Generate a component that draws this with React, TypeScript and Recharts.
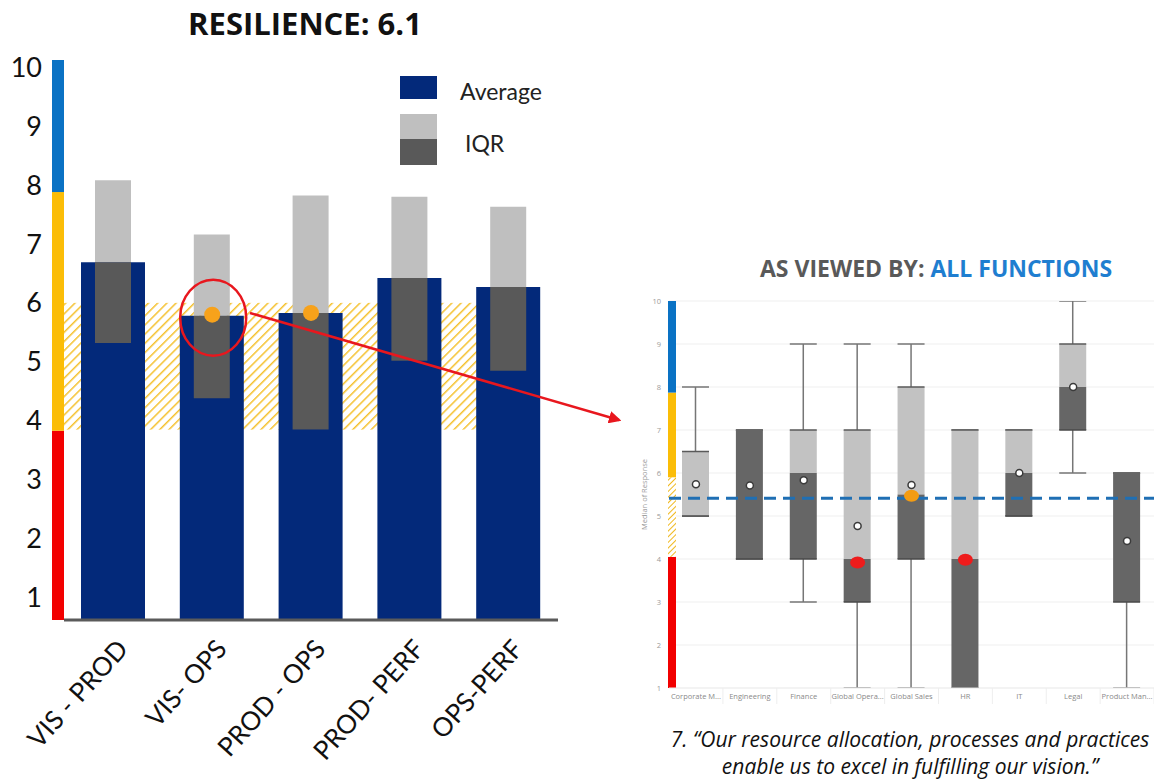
import React from "react";
import { ComposedChart, Bar, Line, XAxis, YAxis, ReferenceArea, ReferenceLine, CartesianGrid, Legend } from "recharts";

// left panel: resilience by pair
const pairs = ["VIS - PROD", "VIS- OPS", "PROD - OPS", "PROD- PERF", "OPS-PERF"];
const averages = [6.69, 5.78, 5.83, 6.42, 6.27];
const lowerQuartiles = [5.32, 4.38, 3.85, 5.02, 4.85];
const upperQuartiles = [8.08, 7.16, 7.82, 7.8, 7.63];
const flaggedPoints = [null, 5.8, 5.83, null, null];
const circledPair = "VIS- OPS";
const resilienceScore = 6.1;
const leftTicks = [1, 2, 3, 4, 5, 6, 7, 8, 9, 10];
const leftZones = [
  { from: 0.62, to: 3.83, color: "#f20000" },
  { from: 3.83, to: 7.88, color: "#fbbd07" },
  { from: 7.88, to: 10.12, color: "#0a72c4" },
];
const watchBand = [3.85, 6.0];

// right panel: as viewed by all functions
const functions = ["Corporate M...", "Engineering", "Finance", "Global Opera...", "Global Sales", "HR", "IT", "Legal", "Product Man..."];
const mins = [5, 4, 3, 1, 1, 1, 5, 6, 1];
const q1s = [5, 4, 4, 3, 4, 1, 5, 7, 3];
const medians = [5, 7, 6, 4, 5.5, 4, 6, 8, 6];
const q3s = [6.5, 7, 7, 7, 8, 7, 7, 9, 6];
const maxs = [8, 7, 9, 9, 9, 7, 7, 10, 6];
const means = [5.74, 5.71, 5.83, 4.77, 5.72, null, 6.0, 8.0, 4.42];
const markers = [null, null, null, 3.92, 5.47, 3.98, null, null, null];
const markerColors = [null, null, null, "#ee1c1c", "#f39c12", "#ee1c1c", null, null, null];
const overallMedian = 5.41;
const rightTicks = [1, 2, 3, 4, 5, 6, 7, 8, 9, 10];
const rightZones = [
  { from: 1, to: 4.05, color: "#f20000" },
  { from: 4.05, to: 5.9, color: "url(#hatchSmall)" },
  { from: 5.9, to: 7.87, color: "#fbbd07" },
  { from: 7.87, to: 10, color: "#0a72c4" },
];

const NAVY = "#03297a";
const LIGHT = "#bfbfbf";
const DARK = "#595959";

const leftData = pairs.map((pair, i) => ({
  pair,
  average: averages[i],
  iqrUpper: [averages[i], upperQuartiles[i]],
  iqrLower: [lowerQuartiles[i], averages[i]],
  flagged: flaggedPoints[i],
  circled: pair === circledPair,
}));

const rightData = functions.map((fn, i) => ({
  fn,
  whisker: [mins[i], maxs[i]],
  upperBox: [medians[i], q3s[i]],
  lowerBox: [q1s[i], medians[i]],
  mean: means[i],
  marker: markers[i],
  markerColor: markerColors[i],
}));

const PairTick = ({ x, y, payload }: any) => (
  <g transform={`translate(${x + 16},${y + 30})`}>
    <text textAnchor="end" transform="rotate(-48)" fontSize={26} fontFamily="Lato" fill="#111">
      {payload.value}
    </text>
  </g>
);

const FnTick = ({ x, y, payload }: any) => (
  <g>
    <text x={x} y={y + 11} textAnchor="middle" fontSize={7.5} fill="#8a8a8a" stroke="none" fontFamily="Open Sans">
      {payload.value}
    </text>
    <line x1={x + 27} x2={x + 27} y1={y} y2={y + 16} stroke="#eeeeee" />
  </g>
);

const FlagDot = ({ cx, cy, index, payload }: any) => {
  if (cy == null || isNaN(cy)) return <g key={index} />;
  return (
    <g key={index}>
      <circle cx={cx} cy={cy} r={8} fill="#f7a21b" />
      {payload.circled && (
        <ellipse cx={cx + 1} cy={cy + 3} rx={33} ry={38} fill="none" stroke="#e8171e" strokeWidth={2.5} />
      )}
    </g>
  );
};

const MarkerDot = ({ cx, cy, index, payload }: any) => {
  if (cy == null || isNaN(cy)) return <g key={index} />;
  return <ellipse key={index} cx={cx} cy={cy} rx={7.5} ry={6} fill={payload.markerColor} />;
};

const Whisker = ({ x, y, width, height }: any) => {
  const cx = x + width / 2;
  const top = Math.min(y, y + height);
  const bottom = Math.max(y, y + height);
  return (
    <g>
      <line x1={cx} x2={cx} y1={top} y2={bottom} stroke="#767676" strokeWidth={1.5} />
      <line x1={x} x2={x + width} y1={top} y2={top} stroke="#767676" strokeWidth={1.5} />
      <line x1={x} x2={x + width} y1={bottom} y2={bottom} stroke="#767676" strokeWidth={1.5} />
    </g>
  );
};

const UpperBox = ({ x, y, width, height }: any) => {
  const top = Math.min(y, y + height);
  return (
    <g>
      <rect x={x} y={top} width={width} height={Math.abs(height)} fill="#c2c2c2" />
      <line x1={x} x2={x + width} y1={top} y2={top} stroke="#5a5a5a" strokeWidth={1.5} />
    </g>
  );
};

const LowerBox = ({ x, y, width, height }: any) => {
  const top = Math.min(y, y + height);
  const bottom = Math.max(y, y + height);
  return (
    <g>
      <rect x={x} y={top} width={width} height={Math.abs(height)} fill="#666666" />
      <line x1={x} x2={x + width} y1={bottom} y2={bottom} stroke="#4a4a4a" strokeWidth={1.5} />
    </g>
  );
};

const LeftLegend = () => (
  <div style={{ position: "relative", width: 170, height: 92, fontFamily: "Lato", fontSize: 23, color: "#222" }}>
    <div style={{ position: "absolute", left: 0, top: 0, width: 37, height: 23, background: NAVY }} />
    <div style={{ position: "absolute", left: 60, top: 2, lineHeight: "26px" }}>Average</div>
    <div style={{ position: "absolute", left: 0, top: 38, width: 37, height: 25, background: LIGHT }} />
    <div style={{ position: "absolute", left: 0, top: 63, width: 37, height: 26, background: DARK }} />
    <div style={{ position: "absolute", left: 65, top: 54, lineHeight: "26px" }}>IQR</div>
  </div>
);

export default function App() {
  return (
    <div style={{ position: "absolute", left: 0, top: 0, width: 1154, height: 782, background: "#fff", overflow: "hidden" }}>
      <div style={{ position: "absolute", left: 0, top: 0 }}>
        <ComposedChart width={600} height={782} data={leftData} margin={{ top: 60, right: 42, bottom: 12, left: 0 }}>
          <defs>
            <pattern id="hatch" width="6.5" height="6.5" patternUnits="userSpaceOnUse" patternTransform="rotate(45)">
              <rect width="6.5" height="6.5" fill="#fff" />
              <line x1="0" y1="0" x2="0" y2="6.5" stroke="#f5c12e" strokeWidth="3" />
            </pattern>
          </defs>
          <XAxis dataKey="pair" interval={0} height={150} tickLine={false} tickSize={0} tickMargin={0}
            axisLine={{ stroke: "#5a5a5a", strokeWidth: 3 }} tick={<PairTick />} />
          <XAxis xAxisId="lt" dataKey="pair" hide />
          <XAxis xAxisId="dk" dataKey="pair" hide />
          <YAxis domain={[0.62, 10.12]} ticks={leftTicks} allowDataOverflow width={64} axisLine={false}
            tickLine={false} tickSize={6} tickMargin={16} tick={{ fill: "#111", fontSize: 27, fontFamily: "Lato" }} />
          <ReferenceArea y1={watchBand[0]} y2={watchBand[1]} x1={pairs[0]} x2={pairs[3]} ifOverflow="visible"
            shape={(p: any) => <rect x={p.x} y={p.y} width={p.width + 20} height={p.height} fill="url(#hatch)" />} />
          {leftZones.map((z) => (
            <ReferenceArea key={z.color} y1={z.from} y2={z.to} ifOverflow="visible"
              shape={(p: any) => <rect x={p.x - 12} y={p.y} width={12} height={p.height} fill={z.color} />} />
          ))}
          <Bar dataKey="average" fill={NAVY} barSize={64} isAnimationActive={false} legendType="none" />
          <Bar xAxisId="lt" dataKey="iqrUpper" fill={LIGHT} barSize={36} isAnimationActive={false} legendType="none" />
          <Bar xAxisId="dk" dataKey="iqrLower" fill={DARK} barSize={36} isAnimationActive={false} legendType="none" />
          <Line dataKey="flagged" stroke="none" dot={FlagDot} activeDot={false} isAnimationActive={false} legendType="none" />
          <Legend layout="vertical" align="center" verticalAlign="middle" content={LeftLegend}
            wrapperStyle={{ left: 400, top: 76, width: 170, height: 92 }} />
        </ComposedChart>
      </div>

      <div
        style={{
          position: "absolute", left: 0, top: 0, width: 610, textAlign: "center",
          fontFamily: "Open Sans", fontWeight: 700, fontSize: 31, lineHeight: "46px", color: "#111",
        }}
      >
        RESILIENCE: {resilienceScore}
      </div>

      <div
        style={{
          position: "absolute", left: 760, top: 253, whiteSpace: "nowrap",
          fontFamily: "Open Sans", fontWeight: 700, fontSize: 23, lineHeight: "30px", color: "#595959",
        }}
      >
        AS VIEWED BY: <span style={{ color: "#1f7ed0" }}>ALL FUNCTIONS</span>
      </div>

      <div style={{ position: "absolute", left: 630, top: 280 }}>
        <ComposedChart width={524} height={430} data={rightData} margin={{ top: 21, right: 0, bottom: 6, left: 0 }}>
          <defs>
            <pattern id="hatchSmall" width="4" height="4" patternUnits="userSpaceOnUse" patternTransform="rotate(45)">
              <rect width="4" height="4" fill="#fff" />
              <line x1="0" y1="0" x2="0" y2="4" stroke="#f0b81c" strokeWidth="2" />
            </pattern>
          </defs>
          <CartesianGrid vertical={false} stroke="#efefef" />
          <XAxis dataKey="fn" interval={0} height={16} tickLine={false} tickSize={0} tickMargin={0}
            axisLine={{ stroke: "#efefef" }} tick={<FnTick />} />
          <XAxis xAxisId="lt" dataKey="fn" hide />
          <XAxis xAxisId="dk" dataKey="fn" hide />
          <YAxis domain={[1, 10]} ticks={rightTicks} allowDataOverflow width={39} axisLine={false} tickLine={false}
            tickSize={0} tickMargin={8} tick={{ fill: "#9a9a9a", fontSize: 7.5, fontFamily: "Open Sans" }}
            label={{ value: "Median of Response", angle: -90, position: "center", dx: -5, fill: "#9a9a9a", fontSize: 7.5, fontFamily: "Open Sans" }} />
          {rightZones.map((z) => (
            <ReferenceArea key={z.from} y1={z.from} y2={z.to} ifOverflow="visible"
              shape={(p: any) => <rect x={p.x - 1} y={p.y} width={8} height={p.height} fill={z.color} />} />
          ))}
          <Bar dataKey="whisker" barSize={27} shape={Whisker} isAnimationActive={false} />
          <Bar xAxisId="lt" dataKey="upperBox" barSize={27} shape={UpperBox} isAnimationActive={false} />
          <Bar xAxisId="dk" dataKey="lowerBox" barSize={27} shape={LowerBox} isAnimationActive={false} />
          <ReferenceLine y={overallMedian} stroke="#1f6fb4" strokeWidth={3} strokeDasharray="12 7" />
          <Line dataKey="marker" stroke="none" dot={MarkerDot} activeDot={false} isAnimationActive={false} />
          <Line dataKey="mean" stroke="none" dot={{ r: 3.5, fill: "#fff", stroke: "#3b3b3b", strokeWidth: 1.5 }}
            activeDot={false} isAnimationActive={false} />
        </ComposedChart>
      </div>

      <div
        style={{
          position: "absolute", left: 650, top: 726, width: 520, textAlign: "center",
          fontFamily: "Open Sans", fontStyle: "italic", fontSize: 21, lineHeight: "27px", color: "#111",
        }}
      >
        7. “Our resource allocation, processes and practices
        <br />
        enable us to excel in fulfilling our vision.”
      </div>

      <svg width={1154} height={782} style={{ position: "absolute", left: 0, top: 0, pointerEvents: "none" }}>
        <defs>
          <marker id="arrow" markerWidth="5" markerHeight="5" refX="4" refY="2.5" orient="auto" markerUnits="strokeWidth">
            <path d="M0,0 L5,2.5 L0,5 z" fill="#e8171e" />
          </marker>
        </defs>
        <line x1={250} y1={313} x2={619} y2={420} stroke="#e8171e" strokeWidth={2.5} markerEnd="url(#arrow)" />
      </svg>
    </div>
  );
}
